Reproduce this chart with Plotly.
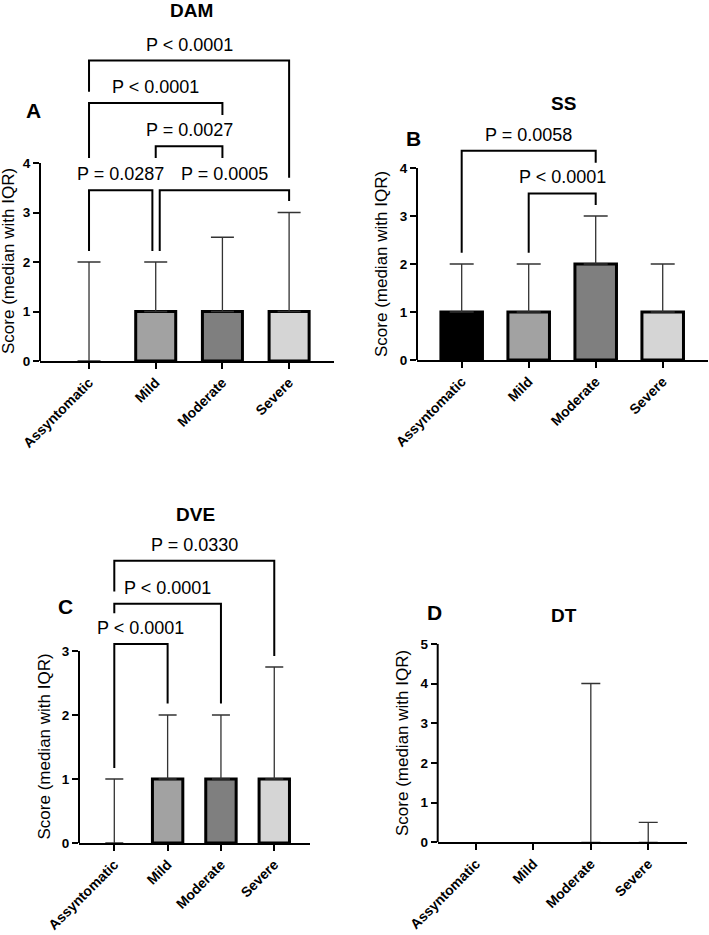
import plotly.graph_objects as go

# ---------------- data ----------------
categories = ["Assyntomatic", "Mild", "Moderate", "Severe"]

dam_median = [0, 1, 1, 1]
dam_q3 = [2, 2, 2.5, 3]

ss_median = [1, 1, 2, 1]
ss_q3 = [2, 2, 3, 2]

dve_median = [0, 1, 1, 1]
dve_q3 = [1, 2, 2, 2.75]

dt_median = [0, 0, 0, 0]
dt_q3 = [0, 0, 4, 0.5]

# comparisons: (group i, group j, p-value label)
dam_pairs = [(0, 1), (1, 3), (1, 2), (0, 2), (0, 3)]
dam_pvals = ["P = 0.0287", "P = 0.0005", "P = 0.0027", "P < 0.0001", "P < 0.0001"]
ss_pairs = [(0, 2), (1, 2)]
ss_pvals = ["P = 0.0058", "P < 0.0001"]
dve_pairs = [(0, 1), (0, 2), (0, 3)]
dve_pvals = ["P < 0.0001", "P < 0.0001", "P = 0.0330"]

# ---------------- styling / layout ----------------
W, H = 709, 935
bar_colors = ["#000000", "#a2a2a2", "#7f7f7f", "#d5d5d5"]
FONT = "Arial"

# bracket geometry (data units): bar-top y, left leg end, right leg end, x offsets
dam_geom = [(3.45, 2.22, 2.22, 0, -0.05), (3.45, 2.22, 3.23, 0.06, 0),
            (4.34, 4.10, 4.10, 0, 0), (5.21, 4.10, 4.97, 0, 0), (6.07, 5.44, 3.70, 0, 0)]
ss_geom = [(4.36, 2.235, 4.11, 0, 0), (3.47, 2.235, 3.23, 0, 0)]
dve_geom = [(3.11, 1.17, 2.18, 0, 0), (3.74, 3.59, 2.18, 0, 0), (4.41, 3.93, 2.92, 0, 0)]


def px(x, y):
    return x / W, 1 - y / H


panels = [
    dict(title="DAM", letter="A", med=dam_median, q3=dam_q3, pairs=dam_pairs, pvals=dam_pvals,
         geom=dam_geom, yticks=[0, 1, 2, 3, 4], yrange=[0, 6.2], xrange=[-0.735, 3.673],
         xdom=[40 / W, 334 / W], ydom=[1 - 361 / H, 1 - (361 - 6.2 * 49.5) / H],
         barw=0.6, capw=11.5, title_px=(191, 11), letter_px=(33, 111), ytitle_px=(8, 261)),
    dict(title="SS", letter="B", med=ss_median, q3=ss_q3, pairs=ss_pairs, pvals=ss_pvals,
         geom=ss_geom, yticks=[0, 1, 2, 3, 4], yrange=[0, 4.5], xrange=[-0.667, 3.676],
         xdom=[417 / W, 708 / W], ydom=[1 - 360 / H, 1 - (360 - 4.5 * 48) / H],
         barw=0.62, capw=12, title_px=(563, 104), letter_px=(413, 138), ytitle_px=(381, 264)),
    dict(title="DVE", letter="C", med=dve_median, q3=dve_q3, pairs=dve_pairs, pvals=dve_pvals,
         geom=dve_geom, yticks=[0, 1, 2, 3], yrange=[0, 4.5], xrange=[-0.662, 3.67],
         xdom=[79 / W, 310 / W], ydom=[1 - 843 / H, 1 - (843 - 4.5 * 64) / H],
         barw=0.57, capw=9, title_px=(195, 514), letter_px=(65, 606), ytitle_px=(43.5, 747)),
    dict(title="DT", letter="D", med=dt_median, q3=dt_q3, pairs=[], pvals=[],
         geom=[], yticks=[0, 1, 2, 3, 4, 5], yrange=[0, 5], xrange=[-0.667, 3.67],
         xdom=[437.7 / W, 686.7 / W], ydom=[1 - 842.3 / H, 1 - 643.8 / H],
         barw=0.6, capw=9.5, title_px=(564, 615), letter_px=(434.5, 612), ytitle_px=(402, 743)),
]

fig = go.Figure()
layout = dict(width=W, height=H, margin=dict(l=0, r=0, t=0, b=0, pad=0),
              paper_bgcolor="white", plot_bgcolor="white", showlegend=False,
              font=dict(family=FONT, color="black"))
annotations = []
shapes = []

xpos = list(range(len(categories)))

for k, p in enumerate(panels):
    n = "" if k == 0 else str(k + 1)
    xa, ya = "x" + n, "y" + n
    for i, cat in enumerate(categories):
        m, q = p["med"][i], p["q3"][i]
        e = q - m
        fig.add_trace(go.Bar(
            x=[xpos[i]], y=[m], xaxis=xa, yaxis=ya, width=p["barw"], name=cat,
            marker=dict(color=bar_colors[i],
                        line=dict(color="black", width=0 if m == 0 else 3)),
            error_y=dict(type="data", array=[e], arrayminus=[0], symmetric=False,
                         visible=e > 0, color="#333333", thickness=1.3, width=p["capw"]),
            hoverinfo="skip",
        ))
    # comparison brackets
    for (i, j), lab, (yb, yl, yr, dxl, dxr) in zip(p["pairs"], p["pvals"], p["geom"]):
        x1, x2 = xpos[i] + dxl, xpos[j] + dxr
        fig.add_trace(go.Scatter(x=[x1, x1, x2, x2], y=[yl, yb, yb, yr], mode="lines",
                                 line=dict(color="black", width=2), xaxis=xa, yaxis=ya,
                                 hoverinfo="skip"))
        annotations.append(dict(x=(x1 + x2) / 2, y=yb, xref=xa, yref=ya, text=lab,
                                showarrow=False, yanchor="middle", yshift=16,
                                font=dict(size=18, family=FONT, color="black")))
    layout["xaxis" + n] = dict(domain=p["xdom"], anchor=ya, range=p["xrange"],
                               tickvals=xpos, ticktext=categories, tickangle=-45,
                               showline=True, linecolor="black", linewidth=2,
                               ticks="outside", ticklen=6, tickwidth=2, tickcolor="black",
                               showgrid=False, zeroline=False, automargin=False,
                               tickfont=dict(size=14, family=FONT, weight="bold", color="black"))
    layout["yaxis" + n] = dict(domain=p["ydom"], anchor=xa, range=p["yrange"],
                               tickvals=p["yticks"], showline=False,
                               ticks="outside", ticklen=6, tickwidth=2, tickcolor="black",
                               showgrid=False, zeroline=False, automargin=False,
                               tickfont=dict(size=13.5, family=FONT, weight="bold", color="black"))
    # y axis line only up to top tick
    shapes.append(dict(type="line", xref=xa + " domain", yref=ya, x0=0, x1=0,
                       y0=p["yticks"][0], y1=p["yticks"][-1],
                       line=dict(color="black", width=2)))
    tx, ty = px(*p["title_px"])
    annotations.append(dict(x=tx, y=ty, xref="paper", yref="paper", text=p["title"],
                            showarrow=False, xanchor="center", yanchor="middle",
                            font=dict(size=19, family=FONT, weight="bold", color="black")))
    lx, ly = px(*p["letter_px"])
    annotations.append(dict(x=lx, y=ly, xref="paper", yref="paper", text=p["letter"],
                            showarrow=False, xanchor="center", yanchor="middle",
                            font=dict(size=21, family=FONT, weight="bold", color="black")))
    yx, yy = px(*p["ytitle_px"])
    annotations.append(dict(x=yx, y=yy, xref="paper", yref="paper",
                            text="Score (median with IQR)", textangle=-90,
                            showarrow=False, xanchor="center", yanchor="middle",
                            font=dict(size=17, family=FONT, color="black")))

layout["annotations"] = annotations
layout["shapes"] = shapes
fig.update_layout(**layout)
fig.write_html("out.html")
